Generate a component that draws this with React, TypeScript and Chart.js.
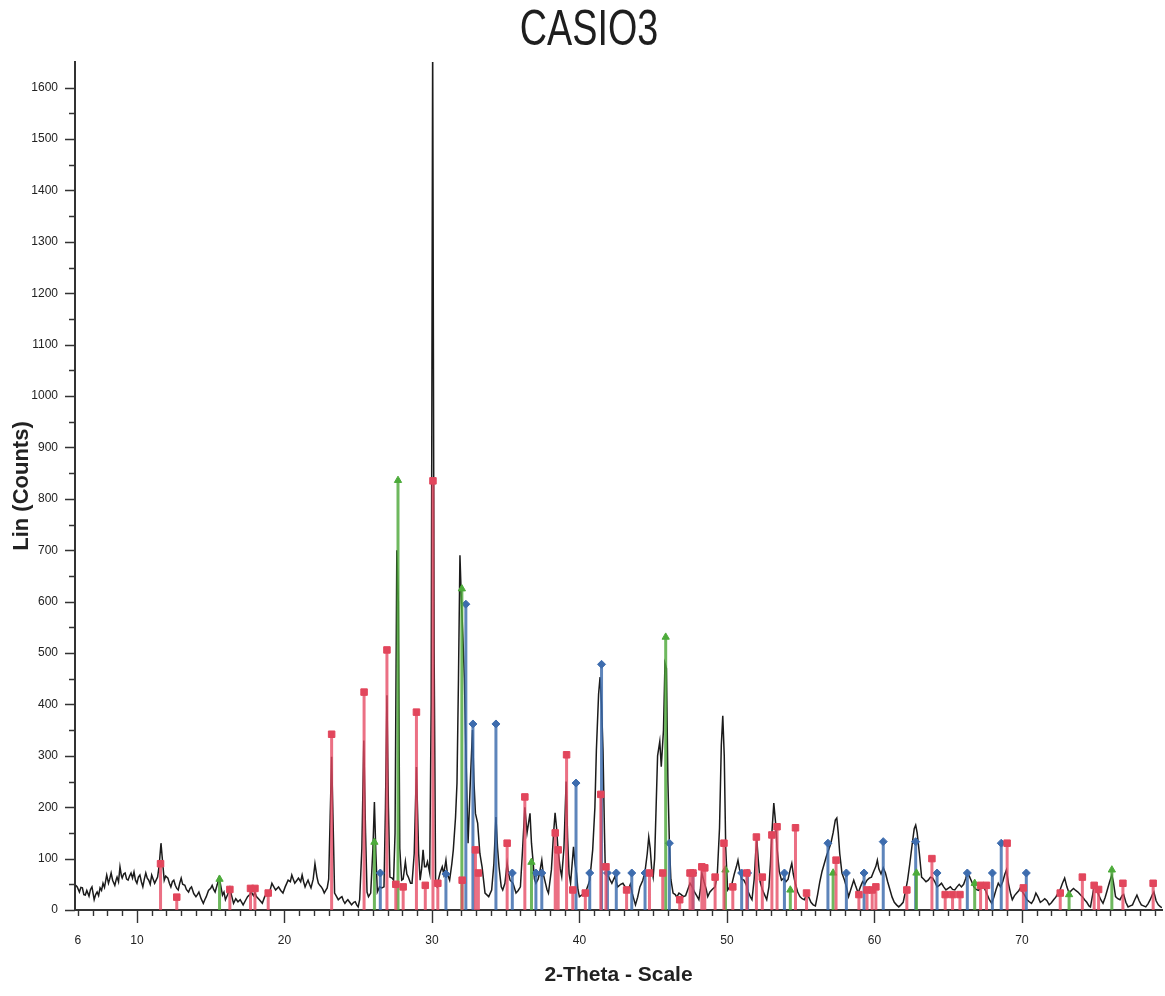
import React, { useEffect, useRef } from "react";
import { Chart, registerables } from "chart.js";

Chart.register(...registerables);

// ---- Data ----
const chartTitle = "CASIO3";
const xAxisTitle = "2-Theta - Scale";
const yAxisTitle = "Lin (Counts)";
const xTickLabels = [6, 10, 20, 30, 40, 50, 60, 70];
const yTickLabels = [0, 100, 200, 300, 400, 500, 600, 700, 800, 900, 1000, 1100, 1200, 1300, 1400, 1500, 1600];

// measured pattern: [2-theta, counts]
const spectrum: [number, number][] = [
  [5.85,48],[5.95,45],[6.1,35],[6.2,44],[6.3,43],[6.4,30],[6.5,29],[6.6,38],[6.75,27],[6.85,40],[6.95,45],[7.1,20],[7.2,30],[7.3,35],[7.4,28],[7.5,43],[7.6,38],[7.7,52],[7.8,44],[7.95,68],[8.07,52],[8.15,60],[8.25,72],[8.35,58],[8.5,48],[8.6,60],[8.65,64],[8.75,55],[8.85,84],[8.95,66],[9.0,62],[9.1,70],[9.2,72],[9.3,60],[9.4,58],[9.5,66],[9.6,72],[9.7,62],[9.8,74],[9.9,58],[10.0,52],[10.1,64],[10.2,68],[10.3,55],[10.4,45],[10.5,60],[10.6,72],[10.7,62],[10.8,58],[10.9,50],[11.0,68],[11.1,60],[11.2,52],[11.3,58],[11.4,64],[11.5,85],[11.63,130],[11.75,90],[11.85,58],[11.95,66],[12.1,62],[12.2,52],[12.3,45],[12.4,55],[12.5,58],[12.6,48],[12.7,42],[12.8,39],[12.9,52],[13.0,62],[13.1,50],[13.25,48],[13.35,40],[13.5,35],[13.6,42],[13.7,45],[13.85,32],[14.0,26],[14.1,30],[14.2,35],[14.35,22],[14.5,13],[14.6,20],[14.7,26],[14.85,38],[15.0,42],[15.1,48],[15.2,40],[15.3,35],[15.45,50],[15.55,62],[15.65,52],[15.8,29],[15.9,35],[16.0,20],[16.15,30],[16.3,43],[16.4,30],[16.55,13],[16.7,22],[16.85,16],[17.0,20],[17.2,10],[17.35,18],[17.5,26],[17.65,30],[17.75,35],[17.9,28],[18.0,34],[18.1,26],[18.3,20],[18.5,13],[18.65,25],[18.8,33],[18.95,30],[19.15,52],[19.3,44],[19.4,39],[19.6,45],[19.75,38],[19.9,33],[20.05,45],[20.25,58],[20.4,55],[20.5,68],[20.6,60],[20.7,52],[20.85,58],[20.95,62],[21.1,55],[21.2,68],[21.3,55],[21.4,45],[21.5,52],[21.6,58],[21.7,50],[21.8,43],[21.95,60],[22.07,90],[22.2,65],[22.3,52],[22.4,48],[22.5,45],[22.6,40],[22.7,33],[22.8,38],[22.9,43],[23.0,60],[23.1,180],[23.2,298],[23.3,170],[23.4,33],[23.5,28],[23.65,20],[23.8,24],[23.9,26],[24.0,18],[24.1,13],[24.2,17],[24.3,20],[24.45,14],[24.55,10],[24.7,15],[24.8,16],[24.9,10],[25.0,6],[25.1,20],[25.25,120],[25.38,330],[25.5,150],[25.6,35],[25.7,26],[25.85,33],[26.0,120],[26.1,210],[26.2,110],[26.3,35],[26.45,45],[26.6,43],[26.75,45],[26.85,200],[26.95,418],[27.05,200],[27.15,64],[27.3,62],[27.4,58],[27.5,150],[27.62,700],[27.72,600],[27.82,120],[27.95,58],[28.05,60],[28.2,94],[28.3,70],[28.4,64],[28.55,52],[28.65,52],[28.8,110],[28.95,278],[29.1,110],[29.2,58],[29.3,80],[29.4,117],[29.5,84],[29.6,84],[29.7,94],[29.85,72],[29.95,400],[30.05,1700],[30.15,500],[30.25,50],[30.35,45],[30.45,60],[30.55,72],[30.7,84],[30.8,70],[30.95,97],[31.05,70],[31.2,58],[31.35,90],[31.45,117],[31.6,180],[31.7,247],[31.8,450],[31.9,690],[32.0,600],[32.1,531],[32.2,450],[32.3,311],[32.45,130],[32.6,247],[32.75,350],[32.85,250],[32.95,188],[33.1,169],[33.25,110],[33.4,84],[33.6,33],[33.85,26],[34.05,39],[34.2,90],[34.34,181],[34.45,120],[34.55,84],[34.7,45],[34.8,39],[34.95,52],[35.1,91],[35.2,70],[35.3,58],[35.5,52],[35.7,33],[35.85,38],[36.0,45],[36.15,120],[36.3,200],[36.45,150],[36.65,188],[36.75,130],[36.85,97],[36.95,60],[37.05,52],[37.2,60],[37.3,72],[37.45,97],[37.55,70],[37.65,58],[37.8,40],[37.9,33],[38.1,78],[38.25,150],[38.35,189],[38.45,160],[38.55,117],[38.7,80],[38.8,65],[38.95,120],[39.1,250],[39.2,140],[39.3,70],[39.4,52],[39.6,123],[39.7,90],[39.8,72],[39.9,40],[40.0,26],[40.2,30],[40.4,33],[40.55,45],[40.7,58],[40.9,117],[41.05,200],[41.15,311],[41.3,420],[41.4,453],[41.5,400],[41.6,311],[41.7,150],[41.75,84],[41.9,72],[42.05,60],[42.2,52],[42.4,65],[42.6,45],[42.8,50],[42.95,52],[43.1,45],[43.3,39],[43.45,50],[43.6,30],[43.8,10],[43.95,25],[44.1,45],[44.3,58],[44.45,75],[44.6,110],[44.7,142],[44.8,120],[44.9,80],[45.0,64],[45.1,100],[45.2,200],[45.3,300],[45.45,328],[45.55,279],[45.7,350],[45.8,480],[45.9,470],[46.0,250],[46.1,130],[46.2,60],[46.35,33],[46.5,30],[46.6,25],[46.75,33],[46.9,30],[47.05,26],[47.2,28],[47.35,40],[47.5,52],[47.65,45],[47.8,35],[47.95,28],[48.1,20],[48.2,40],[48.3,72],[48.45,55],[48.6,40],[48.7,26],[48.85,35],[49.0,40],[49.2,45],[49.35,70],[49.5,160],[49.62,320],[49.72,378],[49.82,300],[49.92,120],[50.05,39],[50.2,45],[50.35,52],[50.5,70],[50.65,85],[50.75,97],[50.85,80],[51.0,60],[51.15,58],[51.3,50],[51.45,35],[51.6,25],[51.7,20],[51.85,60],[51.95,110],[52.03,136],[52.12,100],[52.25,55],[52.4,40],[52.55,30],[52.7,20],[52.85,45],[52.95,90],[53.05,150],[53.18,208],[53.3,170],[53.4,120],[53.55,75],[53.7,58],[53.85,62],[54.0,55],[54.15,60],[54.3,80],[54.4,91],[54.5,70],[54.65,50],[54.8,35],[54.95,26],[55.1,22],[55.25,20],[55.4,30],[55.55,25],[55.7,15],[55.85,10],[56.0,8],[56.15,30],[56.3,55],[56.45,75],[56.6,90],[56.75,105],[56.9,117],[57.05,130],[57.2,150],[57.35,175],[57.45,179],[57.55,150],[57.65,110],[57.8,72],[57.95,60],[58.1,45],[58.25,26],[58.4,40],[58.6,58],[58.75,45],[58.9,33],[59.05,45],[59.2,55],[59.35,50],[59.5,58],[59.65,62],[59.8,64],[59.95,75],[60.1,85],[60.2,97],[60.3,80],[60.45,70],[60.6,82],[60.75,72],[60.9,55],[61.05,40],[61.2,25],[61.35,15],[61.5,10],[61.65,6],[61.8,10],[61.95,15],[62.1,35],[62.25,58],[62.4,90],[62.55,125],[62.7,158],[62.8,165],[62.9,150],[63.05,110],[63.2,64],[63.35,60],[63.5,55],[63.65,58],[63.8,64],[63.95,62],[64.1,55],[64.25,45],[64.4,48],[64.55,52],[64.7,45],[64.85,39],[65.0,42],[65.15,45],[65.3,40],[65.45,39],[65.6,45],[65.75,50],[65.9,45],[66.05,50],[66.2,62],[66.3,74],[66.45,65],[66.6,55],[66.75,45],[66.9,40],[67.05,38],[67.2,42],[67.35,48],[67.5,40],[67.65,30],[67.8,20],[67.95,13],[68.1,25],[68.25,40],[68.4,52],[68.55,45],[68.7,55],[68.85,70],[68.95,78],[69.1,50],[69.25,30],[69.35,20],[69.5,28],[69.65,33],[69.8,38],[69.9,43],[70.05,35],[70.2,28],[70.35,20],[70.5,16],[70.65,13],[70.8,20],[70.95,33],[71.1,25],[71.25,15],[71.4,18],[71.55,22],[71.7,18],[71.85,10],[72.0,14],[72.15,20],[72.3,25],[72.45,33],[72.6,40],[72.75,52],[72.9,62],[73.05,45],[73.2,33],[73.35,38],[73.5,42],[73.65,38],[73.8,35],[73.95,30],[74.1,26],[74.25,20],[74.4,15],[74.55,8],[74.65,6],[74.8,30],[74.9,48],[75.05,40],[75.2,30],[75.35,20],[75.5,13],[75.65,25],[75.8,40],[75.95,55],[76.1,68],[76.2,55],[76.35,26],[76.5,22],[76.65,20],[76.8,28],[76.9,30],[77.05,15],[77.2,6],[77.35,8],[77.5,10],[77.65,20],[77.8,29],[77.95,18],[78.1,10],[78.25,8],[78.4,6],[78.55,12],[78.7,20],[78.85,30],[78.95,35],[79.1,18],[79.25,10],[79.4,6],[79.5,5]
];

// reference phase sticks: [2-theta, counts]
const redSticks: [number, number][] = [
  [11.6,90],[12.7,25],[16.3,40],[17.7,42],[18.0,42],[18.9,33],[23.2,342],[25.4,424],[26.95,506],[27.55,50],[28.05,45],[28.95,385],[29.55,48],[30.07,835],[30.4,52],[32.05,58],[32.95,117],[33.15,72],[35.1,130],[36.3,220],[38.36,150],[38.56,117],[39.13,302],[39.55,39],[40.4,33],[41.45,225],[41.8,84],[43.2,39],[44.75,72],[45.65,72],[46.8,20],[47.5,72],[47.7,72],[48.3,84],[48.5,82],[49.2,64],[49.8,130],[50.4,45],[51.35,72],[52.0,142],[52.4,64],[53.05,146],[53.4,162],[54.65,160],[55.4,33],[57.4,97],[58.95,30],[59.5,39],[59.85,39],[60.1,45],[62.2,39],[63.9,100],[64.8,30],[65.3,30],[65.8,30],[67.2,48],[67.6,48],[69.0,130],[70.1,43],[72.6,33],[74.1,64],[74.9,48],[75.2,40],[76.85,52],[78.9,52]
];
const greenSticks: [number, number][] = [
  [15.6,60],[26.1,132],[27.7,836],[32.03,625],[36.75,93],[45.85,531],[49.9,78],[54.3,39],[57.2,72],[62.85,72],[66.8,52],[73.2,30],[76.1,78]
];
const blueSticks: [number, number][] = [
  [26.5,72],[30.95,70],[32.3,595],[32.78,362],[34.34,362],[35.45,72],[37.05,72],[37.45,72],[39.77,247],[40.7,72],[41.5,478],[41.9,72],[42.5,72],[43.55,72],[44.45,72],[46.1,130],[47.7,72],[51.0,72],[51.4,72],[53.9,72],[56.85,130],[58.1,72],[59.3,72],[60.6,133],[62.8,133],[64.25,72],[66.3,72],[68.0,72],[68.6,130],[70.3,72]
];

const X_MIN = 5.8;
const X_MAX = 79.5;
const Y_MAX = 1650;

const SANS = '"Liberation Sans", Arial, sans-serif';

function stickData(sticks: [number, number][]) {
  const out: { x: number; y: number | null }[] = [];
  sticks.forEach(([x, h]) => {
    out.push({ x, y: 0 }, { x, y: h }, { x, y: null });
  });
  return out;
}

// Tick marks (long at labelled values, short in between) and a condensed title.
const decorPlugin = {
  id: "decor",
  afterDraw(chart: any) {
    const { ctx, chartArea, scales } = chart;
    ctx.save();
    ctx.strokeStyle = "#333";
    ctx.lineWidth = 1.4;
    ctx.beginPath();
    for (let v = 0; v <= 1600; v += 50) {
      const y = Math.round(scales.y.getPixelForValue(v)) + 0.5;
      const len = v % 100 === 0 ? 10 : 6;
      ctx.moveTo(chartArea.left - len, y);
      ctx.lineTo(chartArea.left, y);
    }
    for (let d = 6; d <= 79; d += 1) {
      const x = Math.round(scales.x.getPixelForValue(d)) + 0.5;
      const len = d % 10 === 0 ? 13 : 6;
      ctx.moveTo(x, chartArea.bottom);
      ctx.lineTo(x, chartArea.bottom + len);
    }
    ctx.stroke();

    // title, drawn condensed like the scanned original
    ctx.fillStyle = "#1e1e1e";
    ctx.font = `50px ${SANS}`;
    ctx.textAlign = "center";
    ctx.textBaseline = "middle";
    ctx.translate(589, 31);
    ctx.scale(0.755, 1);
    ctx.fillText(chartTitle, 0, 0);
    ctx.restore();
  },
};

function stickDataset(label: string, sticks: [number, number][], line: string, marker: string, style: string, radius: number) {
  return {
    type: "line" as const,
    label,
    data: stickData(sticks),
    borderColor: line,
    borderWidth: 3,
    spanGaps: false,
    tension: 0,
    pointStyle: style,
    pointBackgroundColor: marker,
    pointBorderColor: marker,
    pointBorderWidth: 1,
    pointRadius: (c: any) => (c.raw && c.raw.y ? radius : 0),
    order: 0,
  };
}

export default function App() {
  const canvasRef = useRef<HTMLCanvasElement | null>(null);

  useEffect(() => {
    const canvas = canvasRef.current;
    if (!canvas) return;
    const chart = new Chart(canvas, {
      type: "line",
      data: {
        datasets: [
          stickDataset("Phase 1", redSticks, "rgba(230, 72, 98, 0.78)", "#e2465c", "rect", 4.6),
          stickDataset("Phase 2", greenSticks, "rgba(78, 168, 58, 0.82)", "#4cab3a", "triangle", 4.2),
          stickDataset("Phase 3", blueSticks, "rgba(58, 106, 172, 0.82)", "#3d6cae", "rectRot", 4.0),
          {
            type: "line",
            label: "CASIO3",
            data: spectrum.map(([x, y]) => ({ x, y })),
            borderColor: "#1b1b1b",
            borderWidth: 1.5,
            pointRadius: 0,
            tension: 0,
            order: 1,
          },
        ] as any,
      },
      options: {
        responsive: false,
        animation: false,
        devicePixelRatio: 1,
        layout: { padding: { left: 0, right: 3, top: 62, bottom: 0 } },
        plugins: {
          legend: { display: false },
          tooltip: { enabled: false },
          title: { display: false },
        },
        scales: {
          x: {
            type: "linear",
            min: X_MIN,
            max: X_MAX,
            grid: { display: false, drawTicks: false },
            border: { display: true, color: "#333", width: 2 },
            afterBuildTicks: (scale: any) => {
              scale.ticks = xTickLabels.map((v) => ({ value: v }));
            },
            afterFit: (scale: any) => {
              scale.height = 86;
            },
            ticks: {
              autoSkip: false,
              maxRotation: 0,
              padding: 23,
              color: "#222",
              font: { family: SANS, size: 12 },
              callback: (v: any) => String(v),
            },
            title: {
              display: true,
              text: xAxisTitle,
              color: "#222",
              font: { family: SANS, size: 21, weight: "bold" },
              padding: { top: 0, bottom: 8 },
            },
          },
          y: {
            type: "linear",
            min: 0,
            max: Y_MAX,
            grid: { display: false, drawTicks: false },
            border: { display: true, color: "#333", width: 2 },
            afterBuildTicks: (scale: any) => {
              scale.ticks = yTickLabels.map((v) => ({ value: v }));
            },
            afterFit: (scale: any) => {
              scale.width = 75;
            },
            ticks: {
              autoSkip: false,
              padding: 17,
              color: "#222",
              font: { family: SANS, size: 12 },
              callback: (v: any) => String(v),
            },
            title: {
              display: true,
              text: yAxisTitle,
              color: "#222",
              font: { family: SANS, size: 22, weight: "bold" },
              padding: { top: 9, bottom: 0 },
            },
          },
        },
      },
      plugins: [decorPlugin],
    });
    return () => chart.destroy();
  }, []);

  return (
    <div style={{ position: "absolute", left: 0, top: 0, width: 1165, height: 996, background: "#fff" }}>
      <canvas ref={canvasRef} width={1165} height={996} style={{ display: "block" }} />
    </div>
  );
}
